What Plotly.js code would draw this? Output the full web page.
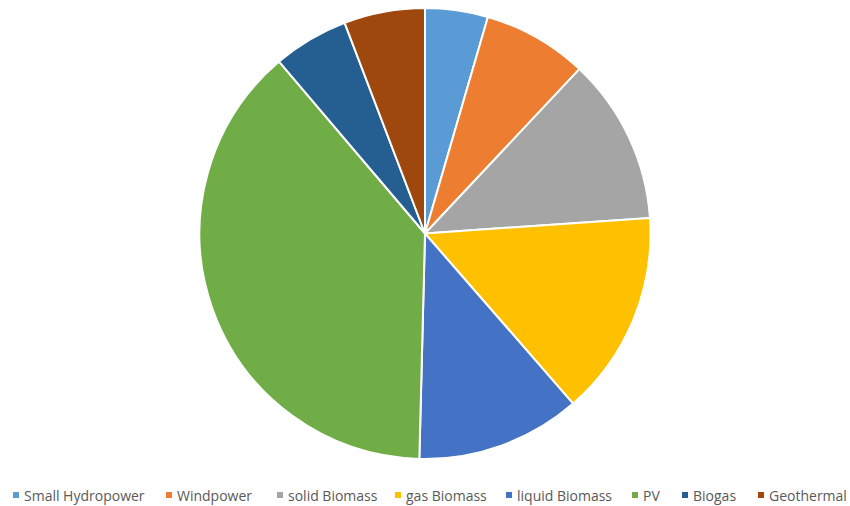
<!DOCTYPE html>
<html>
<head>
<meta charset="utf-8">
<script src="https://cdn.plot.ly/plotly-3.0.1.min.js"></script>
<style>html,body{margin:0;padding:0;background:#fff;}#chart{width:850px;height:506px;}</style>
</head>
<body>
<div id="chart"></div>
<script>
const categories = ["Small Hydropower", "Windpower", "solid Biomass", "gas Biomass", "liquid Biomass", "PV", "Biogas", "Geothermal"];
const values = [4.5, 7.5, 11.9, 14.7, 11.8, 38.4, 5.4, 5.8];
const colors = ["#5B9BD5", "#ED7D31", "#A5A5A5", "#FFC000", "#4472C4", "#70AD47", "#255E91", "#9E480E"];

// legend layout (pixel positions of each legend entry's marker, left edge)
const W = 850, H = 506, M = { l: 0, r: 0, t: 8, b: 47 };
const legendLeft = [13, 166, 277, 395, 506, 632, 682, 758];
const legendY = 495;
const plotH = H - M.t - M.b;
const px2x = p => (p - M.l) / (W - M.l - M.r);
const px2y = p => (H - M.b - p) / plotH;

const trace = {
  type: "pie",
  labels: categories,
  values: values,
  sort: false,
  direction: "clockwise",
  rotation: 0,
  textinfo: "none",
  showlegend: false,
  marker: { colors: colors, line: { color: "#ffffff", width: 2 } },
  domain: { x: [0, 1], y: [0, 1] }
};

const shapes = categories.map((c, i) => ({
  type: "rect", xref: "paper", yref: "paper",
  x0: px2x(legendLeft[i]), x1: px2x(legendLeft[i] + 6),
  y0: px2y(legendY + 3), y1: px2y(legendY - 3),
  fillcolor: colors[i], line: { width: 0 }
}));

const annotations = categories.map((c, i) => ({
  text: c, xref: "paper", yref: "paper",
  x: px2x(legendLeft[i] + 9), y: px2y(legendY),
  xanchor: "left", yanchor: "middle", showarrow: false,
  font: { family: "Open Sans, Liberation Sans, sans-serif", size: 14, color: "#595959" }
}));

const layout = {
  width: W,
  height: H,
  margin: M,
  paper_bgcolor: "#ffffff",
  plot_bgcolor: "#ffffff",
  showlegend: false,
  shapes: shapes,
  annotations: annotations
};

Plotly.newPlot("chart", [trace], layout, { displayModeBar: false, staticPlot: true });
</script>
</body>
</html>
